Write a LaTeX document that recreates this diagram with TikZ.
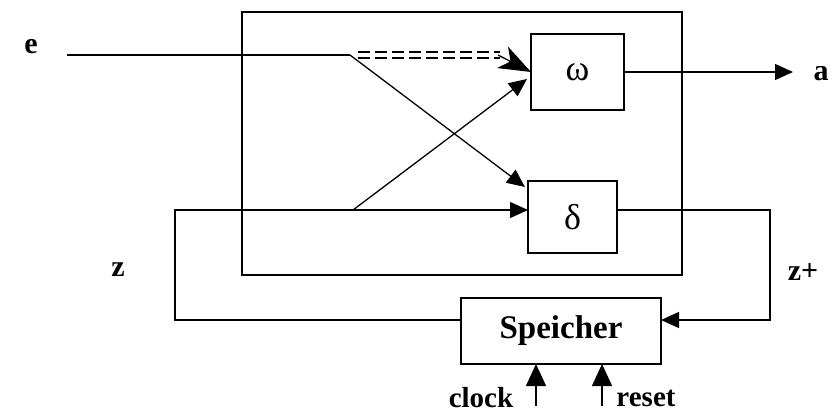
\documentclass[tikz,border=0pt]{standalone}
\usepackage{fontspec}
\setmainfont{Liberation Serif}
\usetikzlibrary{arrows.meta}
\tikzset{
  box/.style={draw, line width=1.4pt, inner sep=0pt, outer sep=0pt},
  lbl/.style={font=\fontsize{30}{32}\selectfont\bfseries, inner sep=0pt},
  greek/.style={font=\fontsize{36}{38}\selectfont},
  conn/.style={line width=1.3pt},
  arr/.style={conn, -{Triangle[length=18pt,width=16pt]}},
  dbl/.style={line width=1.9pt, dash pattern=on 12pt off 5pt},
}
\begin{document}
\begin{tikzpicture}[x=1pt,y=1pt]
\useasboundingbox (0,0) rectangle (837,-415);
% boxes
\node[box, minimum width=440pt, minimum height=263pt] (outer) at (462,-143.5) {};
\node[box, minimum width=93pt, minimum height=76pt, greek] (w) at (577.5,-72) {ω};
\node[box, minimum width=89pt, minimum height=72pt, greek] (d) at (572.5,-217) {δ};
\node[box, minimum width=200pt, minimum height=66pt, lbl, font=\fontsize{33}{35}\selectfont\bfseries] (sp) at (561,-331) {Speicher};
% labels
\node[lbl] (le) at (31,-47) {e};
\node[lbl] (la) at (821,-74) {a};
\node[lbl] (lz) at (118,-270) {z};
\node[lbl] (lzp) at (803,-272) {z+};
\node[lbl, font=\fontsize{29}{31}\selectfont\bfseries] (lclock) at (481,-398) {clock};
\node[lbl, font=\fontsize{29}{31}\selectfont\bfseries] (lreset) at (646,-398) {reset};
% coordinates
\coordinate (ein) at (67,-55);
\coordinate (split) at (350,-55);
\coordinate (zl) at (175,-210);
\coordinate (zc) at (353,-210);
\coordinate (zr) at (770,-210);
\coordinate (aend) at (793,-72);
\coordinate (c0) at (536,-406);
\coordinate (r0) at (602,-406);
\coordinate (dash0) at (358,-55);
\coordinate (dash1) at (500,-55);
% e input
\draw[conn] (ein) -- (split);
\draw[dbl] ([yshift=3]dash0) -- ([yshift=3]dash1);
\draw[dbl] ([yshift=-3]dash0) -- ([yshift=-3]dash1);
\draw[conn, -{Stealth[length=32pt,width=24pt,inset=9pt]}] ([xshift=-2]dash1) -- (w.west);
% cross
\draw[arr] (split) -- ([xshift=-3,yshift=-6]d.north west);
\draw[arr] (zc) -- ([xshift=-4,yshift=-7]w.west);
% output a
\draw[arr] (w.east) -- (aend);
% feedback
\draw[arr] ([yshift=11]sp.west) -| (zl) -- ([yshift=7]d.west);
\draw[arr] ([yshift=7]d.east) -- (zr) |- ([yshift=11]sp.east);
% clock, reset
\draw[arr, -{Triangle[length=22pt,width=20pt]}] (c0) -- (c0 |- sp.south);
\draw[arr, -{Triangle[length=22pt,width=20pt]}] (r0) -- (r0 |- sp.south);
\end{tikzpicture}
\end{document}
